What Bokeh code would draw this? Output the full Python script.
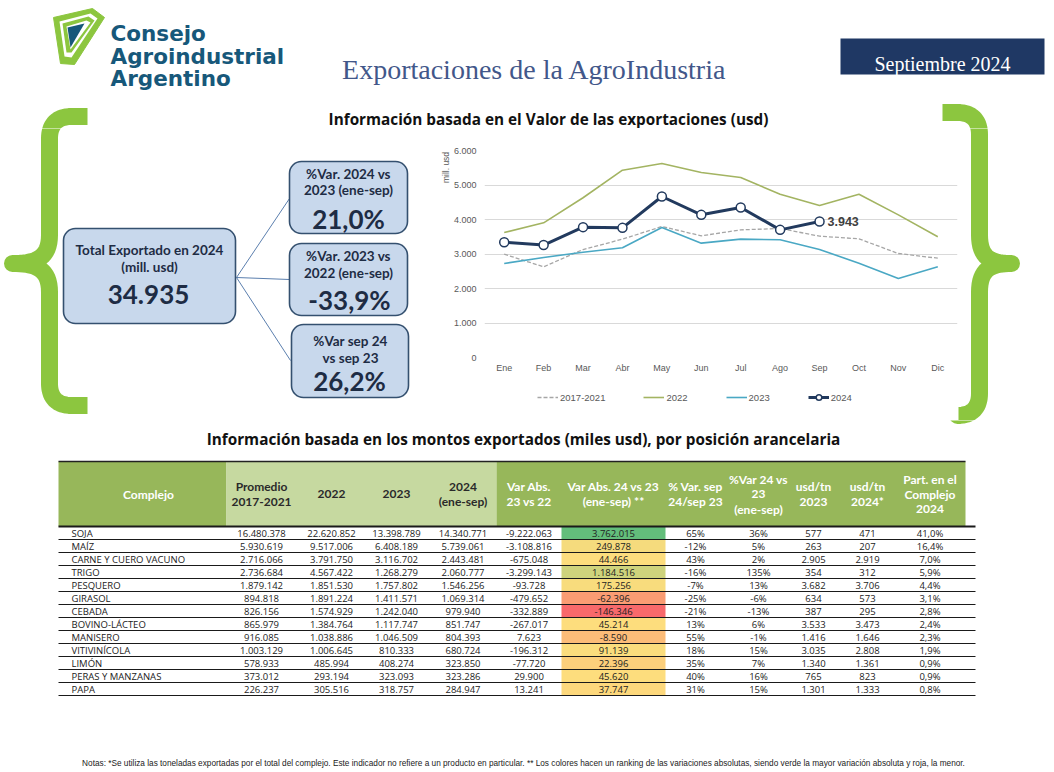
import numpy as np
from bokeh.plotting import figure
from bokeh.models import Range1d, FactorRange, Legend, LegendItem, FixedTicker
from bokeh.layouts import column, row
from bokeh.embed import file_html
from bokeh.resources import INLINE
from bokeh.core.properties import value

# ---------------- data ----------------
months = ["Ene", "Feb", "Mar", "Abr", "May", "Jun", "Jul", "Ago", "Sep", "Oct", "Nov", "Dic"]
exp_1721 = [2995, 2628, 3130, 3430, 3797, 3527, 3700, 3739, 3517, 3440, 3014, 2879]
exp_2022 = [3623, 3903, 4630, 5430, 5623, 5362, 5217, 4734, 4406, 4734, 4135, 3498]
exp_2023 = [2725, 2899, 3053, 3179, 3768, 3314, 3430, 3411, 3130, 2734, 2290, 2628]
exp_2024 = [3340, 3260, 3778, 3758, 4667, 4135, 4348, 3700, 3943]
y_ticks = [0, 1000, 2000, 3000, 4000, 5000, 6000]
series_names = ["2017-2021", "2022", "2023", "2024"]

kpi_total = "34.935"
kpi_var_24_23 = "21,0%"
kpi_var_23_22 = "-33,9%"
kpi_var_sep = "26,2%"

complejos = ["SOJA", "MAÍZ", "CARNE Y CUERO VACUNO", "TRIGO", "PESQUERO", "GIRASOL", "CEBADA",
             "BOVINO-LÁCTEO", "MANISERO", "VITIVINÍCOLA", "LIMÓN", "PERAS Y MANZANAS", "PAPA"]
prom_1721 = [16480378, 5930619, 2716066, 2736684, 1879142, 894818, 826156, 865979, 916085, 1003129, 578933, 373012, 226237]
val_2022 = [22620852, 9517006, 3791750, 4567422, 1851530, 1891224, 1574929, 1384764, 1038886, 1006645, 485994, 293194, 305516]
val_2023 = [13398789, 6408189, 3116702, 1268279, 1757802, 1411571, 1242040, 1117747, 1046509, 810333, 408274, 323093, 318757]
val_2024 = [14340771, 5739061, 2443481, 2060777, 1546256, 1069314, 979940, 851747, 804393, 680724, 323850, 323286, 284947]
var_23_22 = [-9222063, -3108816, -675048, -3299143, -93728, -479652, -332889, -267017, 7623, -196312, -77720, 29900, 13241]
var_24_23 = [3762015, 249878, 44466, 1184516, 175256, -62396, -146346, 45214, -8590, 91139, 22396, 45620, 37747]
pct_sep = [65, -12, 43, -16, -7, -25, -21, 13, 55, 18, 35, 40, 31]
pct_24_23 = [36, 5, 2, 135, 13, -6, -13, 6, -1, 15, 7, 16, 15]
usd_tn_2023 = [577, 263, 2905, 354, 3682, 634, 387, 3533, 1416, 3035, 1340, 765, 1301]
usd_tn_2024 = [471, 207, 2919, 312, 3706, 573, 295, 3473, 1646, 2808, 1361, 823, 1333]
part_2024 = [41.0, 16.4, 7.0, 5.9, 4.4, 3.1, 2.8, 2.4, 2.3, 1.9, 0.9, 0.9, 0.8]

header_labels = ["Complejo", "Promedio\n2017-2021", "2022", "2023", "2024\n(ene-sep)", "Var Abs.\n23 vs 22",
                 "Var Abs. 24 vs 23\n(ene-sep) **", "% Var. sep\n24/sep 23", "%Var 24 vs\n23\n(ene-sep)",
                 "usd/tn\n2023", "usd/tn\n2024*", "Part. en el\nComplejo\n2024"]

# ---------------- styles ----------------
GREEN = "#8cc63f"
NAVY = "#223a5e"
BOX_FILL = "#c8d8ec"
BOX_LINE = "#34506f"
TXT_DARK = "#1e2c44"
HDR_DARK = "#97b75a"
HDR_LIGHT = "#c6d9a0"
C_AVG, C_22, C_23 = "#a6a6a6", "#a3b462", "#4aa8c4"
W = 1050


def deco(x0, x1, y0, y1):
    p = figure(width=int(x1 - x0), height=int(y1 - y0), x_range=Range1d(x0, x1), y_range=Range1d(y1, y0),
               x_axis_location=None, y_axis_location=None, toolbar_location=None, output_backend="svg",
               min_border=0, outline_line_color=None, background_fill_color="white", border_fill_color="white",
               frame_align=False)
    p.grid.visible = False
    return p


def txt(p, x, y, s, size, color="#111111", font="Lato", style="normal", align="center", baseline="middle", angle=0):
    p.text(x=[x], y=[y], text=[s], text_font=value(font), text_font_size=value(f"{size}px"),
           text_font_style=style, text_color=color, text_align=align, text_baseline=baseline, angle=angle)


def bez(p0, p1, p2, p3, n=18):
    t = np.linspace(0, 1, n)[:, None]
    P = [np.array(q, dtype=float) for q in (p0, p1, p2, p3)]
    return (1 - t) ** 3 * P[0] + 3 * (1 - t) ** 2 * t * P[1] + 3 * (1 - t) * t ** 2 * P[2] + t ** 3 * P[3]


def brace_path(arm_top, arm_bot, stem_x, tip_x, y_top, y_mid, y_bot, r=22):
    s = 1.0 if arm_top > stem_x else -1.0
    d = abs(stem_x - tip_x)
    segs = [
        np.array([[arm_top, y_top], [stem_x + s * r, y_top]]),
        bez((stem_x + s * r, y_top), (stem_x + s * r * 0.3, y_top), (stem_x, y_top + r * 0.4), (stem_x, y_top + r)),
        np.array([[stem_x, y_mid - 1.3 * r]]),
        bez((stem_x, y_mid - 1.3 * r), (stem_x, y_mid - 0.2 * r), (stem_x - s * 0.4 * d, y_mid), (tip_x, y_mid)),
        bez((tip_x, y_mid), (stem_x - s * 0.4 * d, y_mid), (stem_x, y_mid + 0.2 * r), (stem_x, y_mid + 1.3 * r)),
        np.array([[stem_x, y_bot - r]]),
        bez((stem_x, y_bot - r), (stem_x, y_bot - r * 0.4), (stem_x + s * r * 0.3, y_bot), (stem_x + s * r, y_bot)),
        np.array([[arm_bot, y_bot]]),
    ]
    pts = np.vstack(segs)
    return pts[:, 0], pts[:, 1]


LB = brace_path(87, 87, 49, 12, 116, 263, 405)
RB = brace_path(942, 959, 979, 1011, 112, 263, 415)


def draw_braces(p):
    for bx, by in (LB, RB):
        p.line(bx, by, line_color=GREEN, line_width=17, line_join="round", line_cap="butt")


def fmt_int(v):
    return ("-" if v < 0 else "") + f"{abs(v):,}".replace(",", ".")


# ---------------- header ----------------
hdr = deco(0, W, 0, 128)
draw_braces(hdr)
hdr.patch([53, 92, 104, 74, 60], [17, 8, 17, 64, 63], fill_color=GREEN, line_color=GREEN, line_width=1)
hdr.patch([59, 90, 97, 71, 64], [21, 13, 18, 57, 56], fill_color="white", line_color=None)
hdr.patch([62, 88, 94, 71, 66], [23, 16, 20, 52, 52], fill_color=GREEN, line_color=None)
hdr.patch([66, 86, 90, 70], [26, 20, 22, 49], fill_color="white", line_color=None)
hdr.patch([67, 84, 70], [27, 23, 47], fill_color="#17587a", line_color=None)
for line_txt, yb in (("Consejo", 33), ("Agroindustrial", 55.5), ("Argentino", 77.5)):
    txt(hdr, 110, yb, line_txt, 21.5, color="#17587a", font="DejaVu Sans", style="bold", align="left",
        baseline="alphabetic")
txt(hdr, 534, 69, "Exportaciones de la AgroIndustria", 28, color="#42578a", font="Liberation Serif",
    baseline="alphabetic")
hdr.quad(left=[840], right=[1044], top=[38], bottom=[74], fill_color="#1f3864", line_color=None)
txt(hdr, 942, 63, "Septiembre 2024", 20, color="white", font="Liberation Serif", baseline="alphabetic")
txt(hdr, 548, 118, "Información basada en el Valor de las exportaciones (usd)", 15.3, color="#111111",
    font="Open Sans", style="bold")

# ---------------- left panel (KPIs) ----------------
left = deco(0, 450, 128, 420)
draw_braces(left)
left.segment(x0=[236, 236, 236], y0=[277, 277, 277], x1=[289, 289, 290], y1=[198, 279, 360],
             line_color="#5b7fae", line_width=1)
left.quad(left=[63, 289, 289, 291], right=[235, 407, 407, 408], top=[228, 161, 243, 324],
          bottom=[323, 233, 315, 397], border_radius=12, fill_color=BOX_FILL, line_color=BOX_LINE, line_width=1.6)
txt(left, 149, 249, "Total Exportado en 2024", 13.5, color=TXT_DARK, style="bold")
txt(left, 149, 266, "(mill. usd)", 13.5, color=TXT_DARK, style="bold")
txt(left, 148, 294, kpi_total, 26, color=TXT_DARK, style="bold")
txt(left, 348, 173, "%Var. 2024 vs", 13.5, color=TXT_DARK, style="bold")
txt(left, 348, 189, "2023 (ene-sep)", 13.5, color=TXT_DARK, style="bold")
txt(left, 348, 218, kpi_var_24_23, 26, color=TXT_DARK, style="bold")
txt(left, 348, 255, "%Var. 2023 vs", 13.5, color=TXT_DARK, style="bold")
txt(left, 348, 272, "2022 (ene-sep)", 13.5, color=TXT_DARK, style="bold")
txt(left, 349, 299, kpi_var_23_22, 26, color=TXT_DARK, style="bold")
txt(left, 350, 340, "%Var sep 24", 13.5, color=TXT_DARK, style="bold")
txt(left, 350, 357, "vs sep 23", 13.5, color=TXT_DARK, style="bold")
txt(left, 349, 380, kpi_var_sep, 26, color=TXT_DARK, style="bold")
txt(left, 445, 167, "mill. usd", 8.5, color="#595959", font="Liberation Sans", angle=np.pi / 2)

# ---------------- line chart ----------------
ch = figure(width=508, height=252, x_range=FactorRange(*months), y_range=Range1d(0, 6000),
            toolbar_location=None, output_backend="svg", min_border_left=34, min_border_right=1,
            min_border_top=22, min_border_bottom=23, outline_line_color=None,
            background_fill_color="white", border_fill_color="white", frame_align=False)
ch.xgrid.grid_line_color = None
ch.ygrid.grid_line_color = "#d9d9d9"
ch.ygrid.grid_line_width = 1
ch.yaxis.ticker = FixedTicker(ticks=y_ticks)
ch.yaxis.major_label_overrides = {t: f"{t:,}".replace(",", ".") for t in y_ticks}
for ax in (ch.xaxis[0], ch.yaxis[0]):
    ax.axis_line_color = None
    ax.major_tick_line_color = None
    ax.minor_tick_line_color = None
    ax.major_tick_out = 0
    ax.major_tick_in = 0
    ax.minor_tick_out = 0
    ax.major_label_text_font = "Liberation Sans"
    ax.major_label_text_font_size = "9px"
    ax.major_label_text_color = "#595959"
ch.yaxis.major_label_standoff = 8
ch.xaxis.major_label_standoff = 5

ch.line(months, exp_1721, line_color=C_AVG, line_width=1.3, line_dash="4 2")
ch.line(months, exp_2022, line_color=C_22, line_width=1.6)
ch.line(months, exp_2023, line_color=C_23, line_width=1.6)
ch.line(months[:len(exp_2024)], exp_2024, line_color=NAVY, line_width=3)
ch.scatter(months[:len(exp_2024)], exp_2024, size=9, fill_color="white", line_color=NAVY, line_width=1.5)
ch.text(x=[months[len(exp_2024) - 1]], y=[exp_2024[-1]], text=[fmt_int(exp_2024[-1])], x_offset=8,
        text_font=value("Liberation Sans"), text_font_size=value("12.5px"), text_font_style="bold",
        text_color="#404040", text_align="left", text_baseline="middle")

# ---------------- legend strip (below the chart) ----------------
lg = deco(450, 958, 380, 420)
hx, hy = [-1000, -999], [-1000, -1000]   # off-canvas proxies: only their style is shown in the legend
l1 = lg.line(x=hx, y=hy, line_color=C_AVG, line_width=1.3, line_dash="4 2")
l2 = lg.line(x=hx, y=hy, line_color=C_22, line_width=1.6)
l3 = lg.line(x=hx, y=hy, line_color=C_23, line_width=1.6)
l4 = lg.line(x=hx, y=hy, line_color=NAVY, line_width=3)
l5 = lg.scatter(x=hx, y=hy, size=9, fill_color="white", line_color=NAVY, line_width=1.5)
legend = Legend(items=[LegendItem(label=series_names[0], renderers=[l1]),
                       LegendItem(label=series_names[1], renderers=[l2]),
                       LegendItem(label=series_names[2], renderers=[l3]),
                       LegendItem(label=series_names[3], renderers=[l4, l5])],
                orientation="horizontal", location=(87, 16), padding=0, margin=0, spacing=38,
                glyph_width=21, glyph_height=14, label_standoff=2, label_text_font="Liberation Sans",
                label_text_font_size="9.5px", label_text_color="#595959", border_line_color=None,
                background_fill_alpha=0, label_height=14)
lg.add_layout(legend)

# ---------------- right panel (brace) ----------------
right = deco(958, W, 128, 420)
draw_braces(right)

# ---------------- table ----------------
tb = deco(0, W, 420, 768)
draw_braces(tb)
txt(tb, 523, 438, "Información basada en los montos exportados (miles usd), por posición arancelaria", 15.3,
    color="#111111", font="Open Sans", style="bold")

T_LEFT, T_RIGHT, H_TOP, H_BOT, ROW_H = 58, 975, 461, 526, 13
tb.quad(left=[58, 226, 496], right=[226, 496, 965], top=[H_TOP] * 3, bottom=[H_BOT] * 3,
        fill_color=[HDR_DARK, HDR_LIGHT, HDR_DARK], line_color=None)

col_x = [148, 261, 331, 396, 462.5, 528.5, 613, 695, 758, 813, 867, 929.5]
for k, (lab, cx) in enumerate(zip(header_labels, col_x)):
    lines = lab.split("\n")
    n = len(lines)
    col = "#2a2a2a" if 1 <= k <= 4 else "white"
    for j, ln in enumerate(lines):
        txt(tb, cx, (H_TOP + H_BOT) / 2 + (j - (n - 1) / 2) * 15, ln, 12, color=col, style="bold")

n_rows = len(complejos)
row_top = [H_BOT + i * ROW_H for i in range(n_rows)]
row_bot = [t + ROW_H for t in row_top]
row_mid = [t + ROW_H / 2 for t in row_top]

RED, YEL, GRN = (248, 105, 107), (253, 221, 125), (99, 190, 123)
vlo, vhi, vmid = min(var_24_23), max(var_24_23), float(np.median(var_24_23))


def cscale(v):
    if v >= vmid:
        t, c0, c1 = (v - vmid) / (vhi - vmid), YEL, GRN
    else:
        t, c0, c1 = (v - vlo) / (vmid - vlo), RED, YEL
    return "#%02x%02x%02x" % tuple(int(round(a + (b - a) * t)) for a, b in zip(c0, c1))


tb.quad(left=[561] * n_rows, right=[665] * n_rows, top=row_top, bottom=row_bot,
        fill_color=[cscale(v) for v in var_24_23], line_color=None)

tb.segment(x0=[58], y0=[H_TOP], x1=[965], y1=[H_TOP], line_color="#222222", line_width=1.5)
tb.segment(x0=[T_LEFT] * n_rows, y0=row_bot, x1=[T_RIGHT] * n_rows, y1=row_bot, line_color="#1a1a1a", line_width=1)
tb.segment(x0=[T_LEFT], y0=[H_BOT], x1=[T_RIGHT], y1=[H_BOT], line_color="#1a1a1a", line_width=2)

cols_text = [
    [fmt_int(v) for v in prom_1721],
    [fmt_int(v) for v in val_2022],
    [fmt_int(v) for v in val_2023],
    [fmt_int(v) for v in val_2024],
    [fmt_int(v) for v in var_23_22],
    [fmt_int(v) for v in var_24_23],
    [f"{v}%" for v in pct_sep],
    [f"{v}%" for v in pct_24_23],
    [fmt_int(v) for v in usd_tn_2023],
    [fmt_int(v) for v in usd_tn_2024],
    [f"{v:.1f}".replace(".", ",") + "%" for v in part_2024],
]
body_style = dict(text_font=value("Open Sans"), text_font_size=value("9.5px"), text_color="#222222",
                  text_baseline="middle")
tb.text(x=[71] * n_rows, y=row_mid, text=complejos, text_align="left", **body_style)
for cx, vals in zip(col_x[1:], cols_text):
    tb.text(x=[cx] * n_rows, y=row_mid, text=vals, text_align="center", **body_style)

txt(tb, 523, 763, "Notas: *Se utiliza las toneladas exportadas por el total del complejo. Este indicador no refiere a "
                  "un producto en particular. ** Los colores hacen un ranking de las variaciones absolutas, siendo "
                  "verde la mayor variación absoluta y roja, la menor.", 8.25, color="#222222",
    font="Liberation Sans")

layout = column(hdr, row(left, column(ch, lg), right), tb)
open("out.html", "w").write(file_html(layout, INLINE))
